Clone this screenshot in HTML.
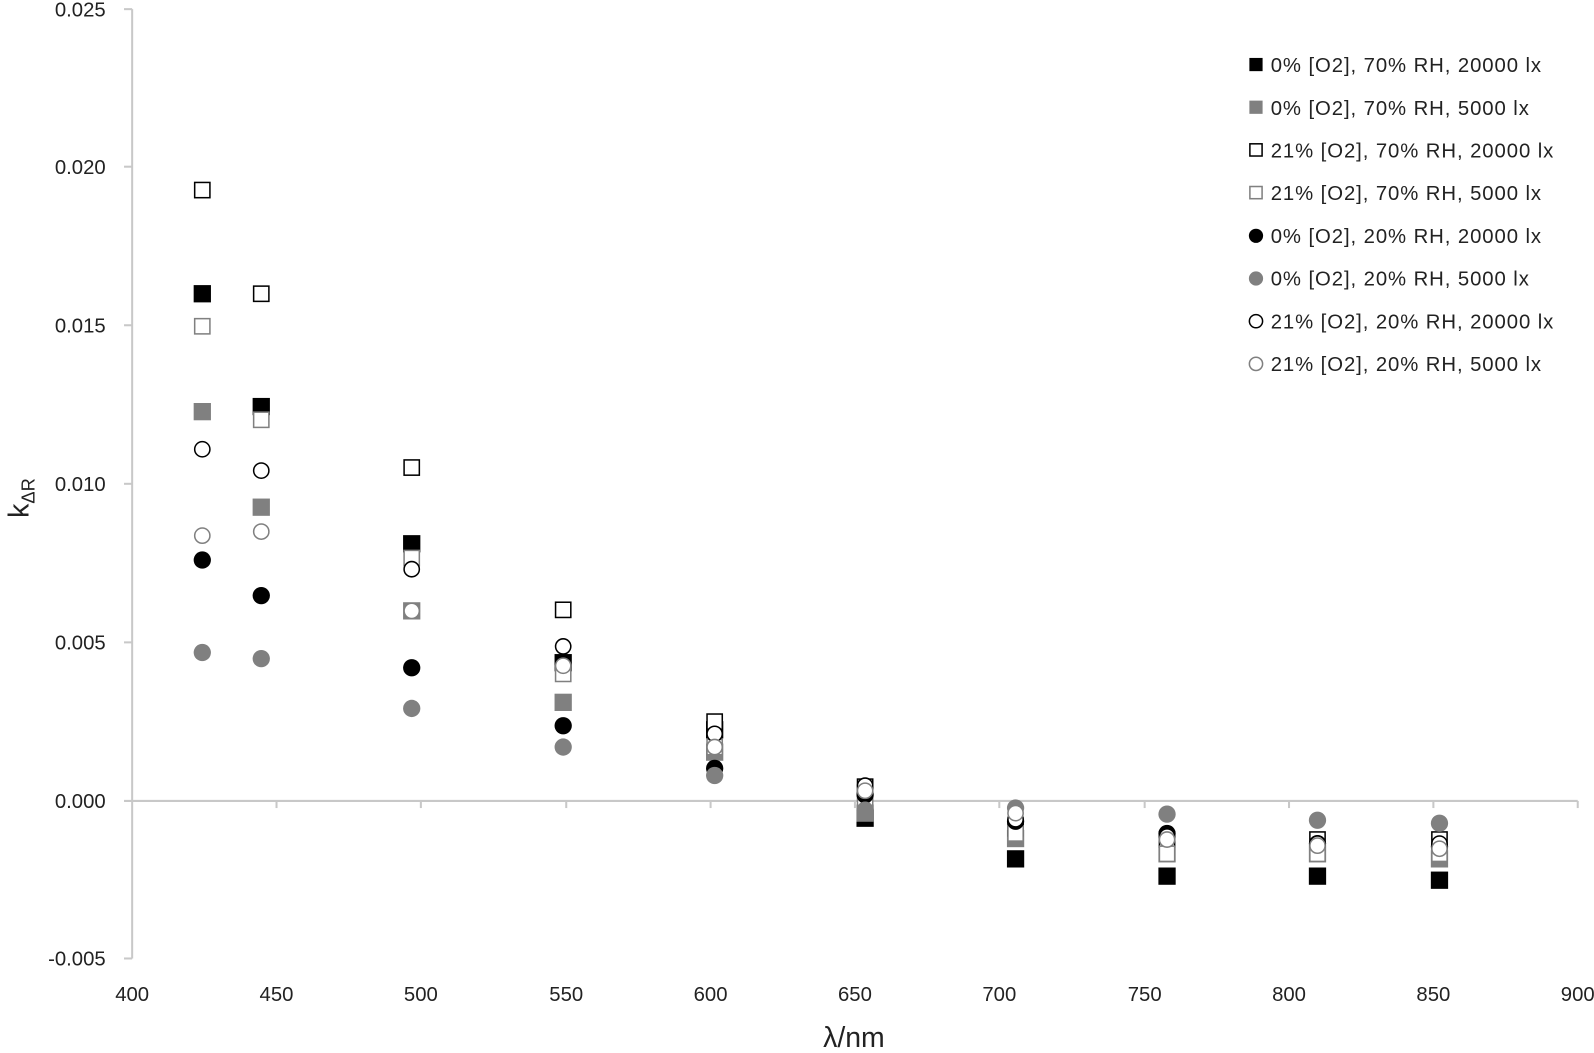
<!DOCTYPE html>
<html><head><meta charset="utf-8"><style>
html,body{margin:0;padding:0;background:#fff}
svg{display:block}
text{font-family:"Liberation Sans",sans-serif;fill:#222}
</style></head><body>
<svg width="1594" height="1053" viewBox="0 0 1568 1036" preserveAspectRatio="none" xmlns="http://www.w3.org/2000/svg">
<g stroke="#c8c8c8" stroke-width="2" fill="none">
<line x1="130" y1="9" x2="130" y2="943"/>
<line x1="122" y1="9" x2="130" y2="9"/>
<line x1="122" y1="164" x2="130" y2="164"/>
<line x1="122" y1="320" x2="130" y2="320"/>
<line x1="122" y1="476" x2="130" y2="476"/>
<line x1="122" y1="632" x2="130" y2="632"/>
<line x1="122" y1="788" x2="1552" y2="788"/>
<line x1="122" y1="943" x2="130" y2="943"/>
<line x1="272" y1="788" x2="272" y2="795"/><line x1="414" y1="788" x2="414" y2="795"/>
<line x1="557" y1="788" x2="557" y2="795"/><line x1="699" y1="788" x2="699" y2="795"/>
<line x1="841" y1="788" x2="841" y2="795"/><line x1="983" y1="788" x2="983" y2="795"/>
<line x1="1126" y1="788" x2="1126" y2="795"/><line x1="1268" y1="788" x2="1268" y2="795"/>
<line x1="1410" y1="788" x2="1410" y2="795"/><line x1="1552" y1="788" x2="1552" y2="795"/>
</g>
<g font-size="20" text-anchor="end">
<text x="104" y="16">0.025</text><text x="104" y="171">0.020</text><text x="104" y="327">0.015</text>
<text x="104" y="483">0.010</text><text x="104" y="639">0.005</text><text x="104" y="795">0.000</text>
<text x="104" y="950">-0.005</text>
</g>
<g font-size="20" text-anchor="middle">
<text x="130" y="985">400</text><text x="272" y="985">450</text><text x="414" y="985">500</text>
<text x="557" y="985">550</text><text x="699" y="985">600</text><text x="841" y="985">650</text>
<text x="983" y="985">700</text><text x="1126" y="985">750</text><text x="1268" y="985">800</text>
<text x="1410" y="985">850</text><text x="1552" y="985">900</text>
</g>
<text x="840" y="1030" font-size="28" text-anchor="middle">λ/nm</text>
<text transform="translate(28,490) rotate(-90)" font-size="28" text-anchor="middle">k<tspan font-size="18" dy="6">ΔR</tspan></text>

<!-- S1 black squares -->
<g fill="#000">
<rect x="190.5" y="280.5" width="17" height="17"/><rect x="248.5" y="391.5" width="17" height="17"/>
<rect x="396.5" y="526.5" width="17" height="17"/><rect x="545.5" y="643.5" width="17" height="17"/>
<rect x="694.5" y="709.5" width="17" height="17"/><rect x="842.5" y="796.5" width="17" height="17"/>
<rect x="990.5" y="836.5" width="17" height="17"/><rect x="1139.5" y="853.5" width="17" height="17"/>
<rect x="1287.5" y="853.5" width="17" height="17"/><rect x="1407.5" y="857.5" width="17" height="17"/>
</g>
<!-- S2 gray squares -->
<g fill="#808080">
<rect x="190.5" y="396.5" width="17" height="17"/><rect x="248.5" y="490.5" width="17" height="17"/>
<rect x="396.5" y="592.5" width="17" height="17"/><rect x="545.5" y="682.5" width="17" height="17"/>
<rect x="694.5" y="731.5" width="17" height="17"/><rect x="842.5" y="791.5" width="17" height="17"/>
<rect x="990.5" y="816.5" width="17" height="17"/><rect x="1139.5" y="831.5" width="17" height="17"/>
<rect x="1287.5" y="831.5" width="17" height="17"/><rect x="1407.5" y="836.5" width="17" height="17"/>
</g>
<!-- S3 open black squares -->
<g fill="#fff" stroke="#000" stroke-width="1.5">
<rect x="191.5" y="179.5" width="15" height="15"/><rect x="249.5" y="281.5" width="15" height="15"/>
<rect x="397.5" y="452.5" width="15" height="15"/><rect x="546.5" y="592.5" width="15" height="15"/>
<rect x="695.5" y="702.5" width="15" height="15"/><rect x="843.5" y="766.5" width="15" height="15"/>
<rect x="991.5" y="807.5" width="15" height="15"/><rect x="1140.5" y="818.5" width="15" height="15"/>
<rect x="1288.5" y="818.5" width="15" height="15"/><rect x="1408.5" y="818.5" width="15" height="15"/>
</g>
<!-- S4 open gray squares -->
<g fill="#fff" stroke="#808080" stroke-width="1.5">
<rect x="191.5" y="313.5" width="15" height="15"/><rect x="249.5" y="405.5" width="15" height="15"/>
<rect x="397.5" y="541.5" width="15" height="15"/><rect x="546.5" y="655.5" width="15" height="15"/>
<rect x="695.5" y="727.5" width="15" height="15"/><rect x="843.5" y="782.5" width="15" height="15"/>
<rect x="991.5" y="812.5" width="15" height="15"/><rect x="1140.5" y="832.5" width="15" height="15"/>
<rect x="1288.5" y="832.5" width="15" height="15"/><rect x="1408.5" y="832.5" width="15" height="15"/>
</g>
<!-- S5 black circles -->
<g fill="#000">
<circle cx="199" cy="551" r="8.5"/><circle cx="257" cy="586" r="8.5"/><circle cx="405" cy="657" r="8.5"/>
<circle cx="554" cy="714" r="8.5"/><circle cx="703" cy="756" r="8.5"/><circle cx="851" cy="782" r="8.5"/>
<circle cx="999" cy="808" r="8.5"/><circle cx="1148" cy="820" r="8.5"/><circle cx="1296" cy="830" r="8.5"/>
<circle cx="1416" cy="833" r="8.5"/>
</g>
<!-- S6 gray circles -->
<g fill="#808080">
<circle cx="199" cy="642" r="8.5"/><circle cx="257" cy="648" r="8.5"/><circle cx="405" cy="697" r="8.5"/>
<circle cx="554" cy="735" r="8.5"/><circle cx="703" cy="763" r="8.5"/><circle cx="851" cy="797" r="8.5"/>
<circle cx="999" cy="795" r="8.5"/><circle cx="1148" cy="801" r="8.5"/><circle cx="1296" cy="807" r="8.5"/>
<circle cx="1416" cy="810" r="8.5"/>
</g>
<!-- S7 open black circles -->
<g fill="#fff" stroke="#000" stroke-width="1.5">
<circle cx="199" cy="442" r="7.5"/><circle cx="257" cy="463" r="7.5"/><circle cx="405" cy="560" r="7.5"/>
<circle cx="554" cy="636" r="7.5"/><circle cx="703" cy="722" r="7.5"/><circle cx="851" cy="773" r="7.5"/>
<circle cx="999" cy="806" r="7.5"/><circle cx="1148" cy="823" r="7.5"/><circle cx="1296" cy="830" r="7.5"/>
<circle cx="1416" cy="830" r="7.5"/>
</g>
<!-- S8 open gray circles -->
<g fill="#fff" stroke="#808080" stroke-width="1.5">
<circle cx="199" cy="527" r="7.5"/><circle cx="257" cy="523" r="7.5"/><circle cx="405" cy="601" r="7.5"/>
<circle cx="554" cy="655" r="7.5"/><circle cx="703" cy="735" r="7.5"/><circle cx="851" cy="778" r="7.5"/>
<circle cx="999" cy="800" r="7.5"/><circle cx="1148" cy="826" r="7.5"/><circle cx="1296" cy="832" r="7.5"/>
<circle cx="1416" cy="835" r="7.5"/>
</g>

<g font-size="20" letter-spacing="0.9">
<rect x="1229" y="57" width="13" height="13" fill="#000"/><text x="1250" y="71">0% [O2], 70% RH, 20000 lx</text>
<rect x="1229" y="99" width="13" height="13" fill="#808080"/><text x="1250" y="113">0% [O2], 70% RH, 5000 lx</text>
<rect x="1229.5" y="141.5" width="12" height="12" fill="#fff" stroke="#000" stroke-width="1.5"/><text x="1250" y="155">21% [O2], 70% RH, 20000 lx</text>
<rect x="1229.5" y="183.5" width="12" height="12" fill="#fff" stroke="#808080" stroke-width="1.5"/><text x="1250" y="197">21% [O2], 70% RH, 5000 lx</text>
<circle cx="1235.5" cy="232" r="7" fill="#000"/><text x="1250" y="239">0% [O2], 20% RH, 20000 lx</text>
<circle cx="1235.5" cy="274" r="7" fill="#808080"/><text x="1250" y="281">0% [O2], 20% RH, 5000 lx</text>
<circle cx="1235.5" cy="316" r="6.5" fill="#fff" stroke="#000" stroke-width="1.5"/><text x="1250" y="323">21% [O2], 20% RH, 20000 lx</text>
<circle cx="1235.5" cy="358" r="6.5" fill="#fff" stroke="#808080" stroke-width="1.5"/><text x="1250" y="365">21% [O2], 20% RH, 5000 lx</text>
</g>
</svg>
</body></html>
